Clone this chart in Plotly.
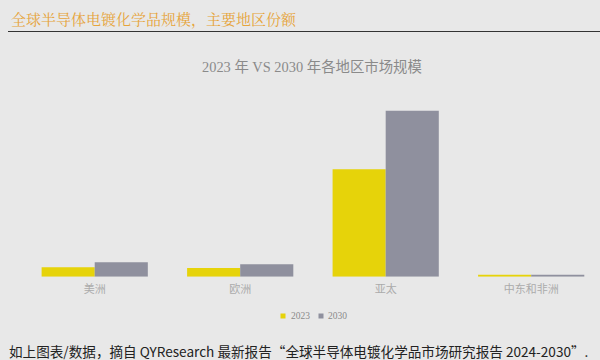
import plotly.graph_objects as go

categories = ["美洲", "欧洲", "亚太", "中东和非洲"]
series_names = ["2023", "2030"]
values_2023 = [9.4, 8.7, 107.4, 1.3]
values_2030 = [14.4, 12.4, 166.0, 2.0]
colors = ["#e6d30a", "#8f909e"]

W, H = 600, 360
def px(x):
    return x / W
def py(y):
    return 1 - y / H

fig = go.Figure()
for name, vals, col in zip(series_names, [values_2023, values_2030], colors):
    fig.add_trace(go.Bar(x=categories, y=vals, name=name, showlegend=False,
                         marker=dict(color=col, line=dict(width=0))))

fig.update_layout(
    width=W, height=H,
    margin=dict(l=0, r=0, t=0, b=0),
    paper_bgcolor="#e8e8e8", plot_bgcolor="#e8e8e8",
    barmode="group", bargap=0.27, bargroupgap=0,
    showlegend=False,
    xaxis=dict(domain=[0, 1], range=[-0.651, 3.473], showgrid=False, showline=False, zeroline=False,
               ticks="", ticklabelstandoff=4,
               tickfont=dict(family="Noto Sans CJK SC", size=11, color="#ababab")),
    yaxis=dict(domain=[py(276.7), py(106.7)], range=[0, 170], visible=False),
    font=dict(family="Noto Sans CJK SC"),
)

# legend (manual, small squares)
leg_items = [(283, 289, series_names[0], colors[0]), (321, 326, series_names[1], colors[1])]
for xm, xt, name, col in leg_items:
    fig.add_shape(type="rect", xref="paper", yref="paper",
                  x0=px(xm - 2.5), x1=px(xm + 2.5), y0=py(313.5), y1=py(318.5),
                  fillcolor=col, line=dict(width=0))
    fig.add_annotation(text=name, xref="paper", yref="paper", x=px(xt), y=py(316),
                       xanchor="left", yanchor="middle", showarrow=False,
                       font=dict(family="Liberation Serif, serif", size=9.5, color="#8a8a8a"))

fig.add_annotation(text="全球半导体电镀化学品规模，主要地区份额", xref="paper", yref="paper",
                   x=px(9), y=py(18), xanchor="left", yanchor="middle", showarrow=False,
                   font=dict(family="Noto Serif CJK SC, Noto Sans CJK SC", size=15, color="#e6a43a"))
fig.add_shape(type="line", xref="paper", yref="paper", x0=px(8), x1=px(600), y0=py(31.5), y1=py(31.5),
              line=dict(color="#333333", width=1))
fig.add_annotation(text="2023 年 VS 2030 年各地区市场规模", xref="paper", yref="paper",
                   x=px(312), y=py(66.5), xanchor="center", yanchor="middle", showarrow=False,
                   font=dict(family="Liberation Serif, Noto Sans CJK SC", size=14.4, color="#8a8a8a"))
fig.add_annotation(text="如上图表/数据，摘自 QYResearch 最新报告“全球半导体电镀化学品市场研究报告 2024-2030”.",
                   xref="paper", yref="paper", x=px(7), y=py(351), xanchor="left", yanchor="middle",
                   showarrow=False, font=dict(family="Noto Sans CJK SC", size=13.6, color="#222222"))

fig.write_html("out.html", post_script="document.body.style.margin='0';",
               config={"displayModeBar": False})
